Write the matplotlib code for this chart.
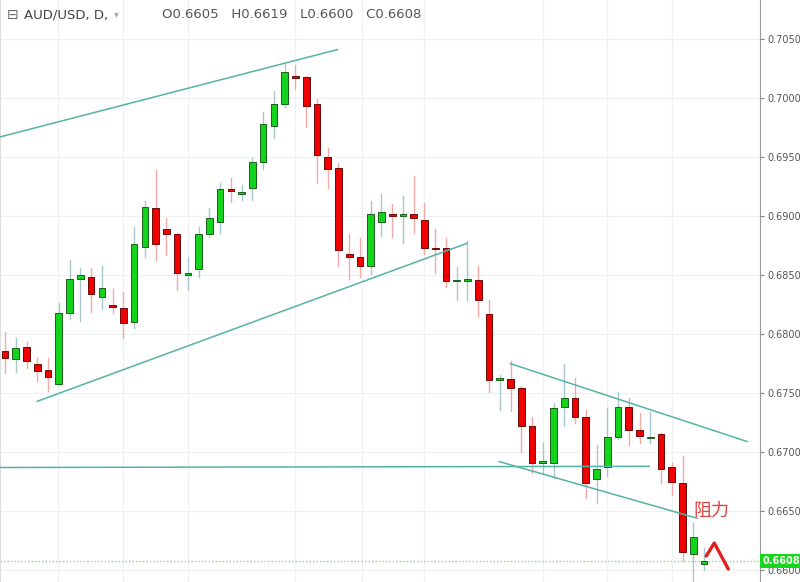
import matplotlib
matplotlib.use("Agg")
import matplotlib.pyplot as plt
from matplotlib.patches import Rectangle

plt.rcParams['font.family'] = ['DejaVu Sans', 'Noto Sans CJK SC']

opens = [0.6786,0.6779,0.6789,0.6775,0.6770,0.6758,0.6818,0.6847,0.6848,0.6831,
         0.6825,0.6822,0.6810,0.6874,0.6907,0.6889,0.6885,0.6850,0.6855,0.6885,
         0.6895,0.6923,0.6919,0.6924,0.6946,0.6976,0.6995,0.7019,0.7018,0.6995,
         0.6950,0.6941,0.6868,0.6865,0.6858,0.6895,0.6902,0.6900,0.6902,0.6897,
         0.6873,0.6873,0.6845,0.6845,0.6846,0.6817,0.6761,0.6762,0.6754,0.6722,
         0.6691,0.6691,0.6738,0.6746,0.6730,0.6677,0.6687,0.6713,0.6738,0.6719,
         0.6712,0.6715,0.6687,0.6674,0.6614,0.6605]
highs = [0.6802,0.6797,0.6793,0.6780,0.6780,0.6826,0.6863,0.6856,0.6856,0.6858,
         0.6838,0.6836,0.6891,0.6913,0.6939,0.6898,0.6886,0.6865,0.6891,0.6907,
         0.6928,0.6932,0.6926,0.6949,0.6988,0.7006,0.7030,0.7028,0.7019,0.6999,
         0.6958,0.6945,0.6885,0.6881,0.6913,0.6919,0.6910,0.6917,0.6934,0.6911,
         0.6889,0.6881,0.6857,0.6879,0.6858,0.6829,0.6765,0.6777,0.6756,0.6730,
         0.6708,0.6742,0.6775,0.6763,0.6736,0.6706,0.6737,0.6751,0.6746,0.6733,
         0.6734,0.6716,0.6691,0.6697,0.6640,0.6619]
lows = [0.6767,0.6768,0.6771,0.6760,0.6752,0.6757,0.6813,0.6811,0.6819,0.6821,
        0.6818,0.6797,0.6805,0.6865,0.6863,0.6867,0.6837,0.6837,0.6848,0.6882,
        0.6886,0.6912,0.6914,0.6914,0.6940,0.6966,0.6992,0.7008,0.6975,0.6928,
        0.6924,0.6858,0.6847,0.6848,0.6851,0.6883,0.6882,0.6877,0.6886,0.6868,
        0.6852,0.6840,0.6829,0.6829,0.6815,0.6751,0.6736,0.6735,0.6700,0.6682,
        0.6682,0.6678,0.6722,0.6725,0.6661,0.6657,0.6680,0.6711,0.6706,0.6708,
        0.6708,0.6674,0.6664,0.6608,0.6590,0.6600]
closes = [0.6780,0.6788,0.6777,0.6769,0.6764,0.6818,0.6847,0.6850,0.6834,0.6839,
          0.6823,0.6809,0.6876,0.6908,0.6876,0.6885,0.6852,0.6852,0.6885,0.6898,
          0.6923,0.6921,0.6920,0.6946,0.6978,0.6995,0.7022,0.7017,0.6993,0.6952,
          0.6940,0.6871,0.6865,0.6858,0.6902,0.6903,0.6900,0.6902,0.6898,0.6873,
          0.6872,0.6845,0.6845,0.6847,0.6829,0.6761,0.6763,0.6754,0.6722,0.6691,
          0.6692,0.6737,0.6746,0.6730,0.6674,0.6686,0.6713,0.6738,0.6719,0.6714,
          0.6713,0.6686,0.6675,0.6615,0.6628,0.6608]

price_ticks = [0.6600,0.6650,0.6700,0.6750,0.6800,0.6850,0.6900,0.6950,0.7000,0.7050]
vgrid_idx = [4.9, 11.0, 17.0, 27.0, 33.2, 39.0, 50.0, 56.0, 62.0]

# trend lines: (x0, y0, x1, y1) in candle index / price
trend_x0 = [-0.47, 2.98, 46.98, 45.95, -0.47]
trend_y0 = [0.6967, 0.6743, 0.6775, 0.6692, 0.6687]
trend_x1 = [30.9, 42.98, 69.0, 64.37, 59.9]
trend_y1 = [0.7041, 0.6877, 0.6709, 0.6644, 0.6688]

last_price = 0.6608

fig = plt.figure(figsize=(8, 5.82), dpi=100)
ax = fig.add_axes([0.0, 0.0, 0.95, 1.0])
ax.set_xlim(-0.47, 70.2)
ax.set_ylim(0.6590, 0.7083)

for p in price_ticks:
    ax.axhline(p, color='#eef0f2', lw=0.9, zorder=0)
for v in vgrid_idx:
    ax.axvline(v, color='#eef0f2', lw=0.9, zorder=0)

w = 0.62
for i, (o, h, l, c) in enumerate(zip(opens, highs, lows, closes)):
    up = c >= o
    face = '#13d41c' if up else '#f00000'
    edge = '#1a5e1a' if up else '#6b0a0a'
    wick = '#a9c6cf' if up else '#f2a9a9'
    ax.plot([i, i], [l, h], color=wick, lw=1.0, zorder=2)
    bot = min(o, c)
    hgt = max(abs(c - o), 0.00012)
    ax.add_patch(Rectangle((i - w / 2, bot), w, hgt, facecolor=face,
                           edgecolor=edge, lw=0.7, zorder=3))

for x0, y0, x1, y1 in zip(trend_x0, trend_y0, trend_x1, trend_y1):
    ax.plot([x0, x1], [y0, y1], color='#55b3a6', lw=1.1, zorder=4)

ax.axhline(last_price, color='#7be07b', lw=1.0, ls=(0, (1, 1.5)), zorder=1)

ax.yaxis.tick_right()
ax.set_yticks(price_ticks)
ax.set_yticklabels([f'{p:.4f}' for p in price_ticks], fontsize=7, color='#555555')
ax.tick_params(axis='y', length=3, color='#888888', pad=2)
ax.set_xticks([])
for s in ['top', 'bottom']:
    ax.spines[s].set_visible(False)
ax.spines['left'].set_color('#dddddd')
ax.spines['right'].set_color('#999999')

ax.text(1.003, last_price, f'{last_price:.4f}', transform=ax.get_yaxis_transform(),
        ha='left', va='center', fontsize=7, color='white', fontweight='bold',
        bbox=dict(boxstyle='square,pad=0.2', fc='#17d41c', ec='none'), zorder=10,
        clip_on=False)

ax.text(65.7, 0.6650, '阻力', family=['Noto Sans CJK SC'], fontsize=13,
        color='#e04040', va='center', ha='center', zorder=6)
ax.plot([65.2, 65.95, 67.25], [0.6612, 0.6623, 0.6601], color='#e02020',
        lw=2.4, solid_capstyle='round', zorder=6)

fig.text(0.008, 0.975, '⊟', fontsize=10, color='#666666', va='center')
fig.text(0.03, 0.975, 'AUD/USD, D,', fontsize=9.5, color='#444444', va='center')
fig.text(0.142, 0.975, '▾', fontsize=7, color='#aaaaaa', va='center')
fig.text(0.203, 0.975, 'O0.6605   H0.6619   L0.6600   C0.6608', fontsize=9.5,
         color='#555555', va='center')

fig.savefig('out.png', dpi=100)
